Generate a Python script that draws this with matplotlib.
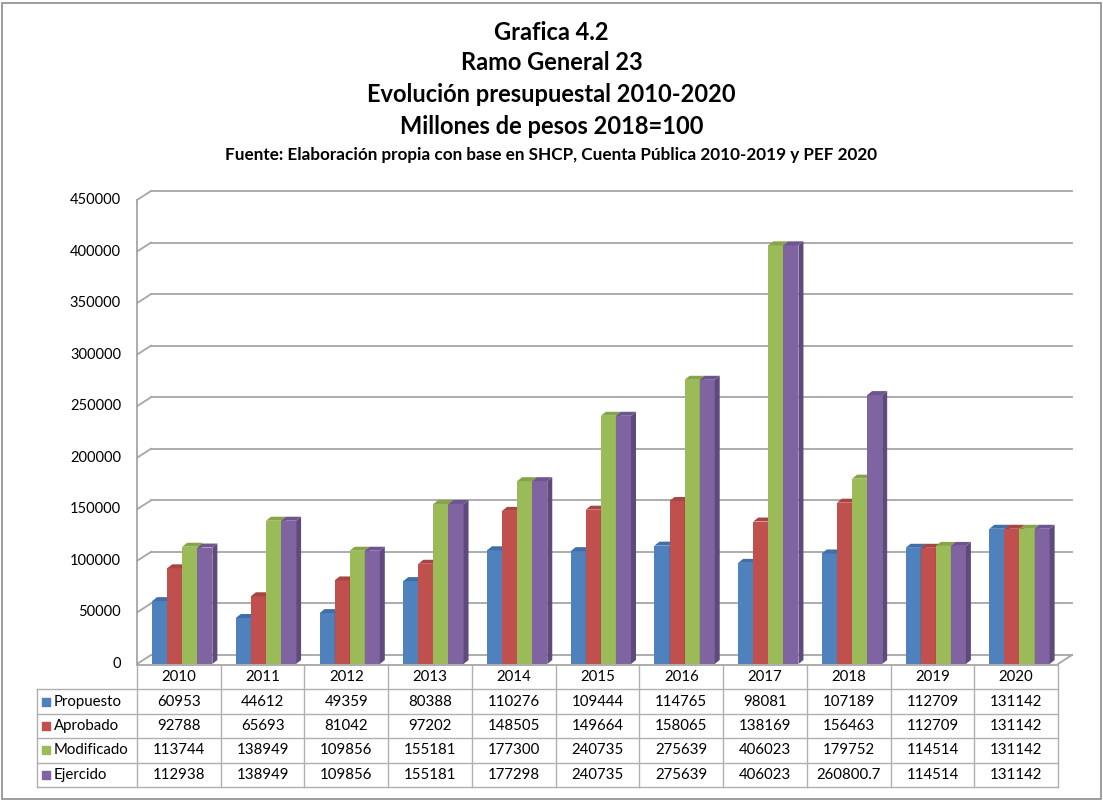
import numpy as np
import matplotlib
matplotlib.use("Agg")
import matplotlib.pyplot as plt
from matplotlib.patches import Polygon, Rectangle

plt.rcParams["font.family"] = ["Lato", "DejaVu Sans"]

years = ["2010", "2011", "2012", "2013", "2014", "2015",
         "2016", "2017", "2018", "2019", "2020"]
series = ["Propuesto", "Aprobado", "Modificado", "Ejercido"]
propuesto = [60953, 44612, 49359, 80388, 110276, 109444, 114765, 98081, 107189, 112709, 131142]
aprobado = [92788, 65693, 81042, 97202, 148505, 149664, 158065, 138169, 156463, 112709, 131142]
modificado = [113744, 138949, 109856, 155181, 177300, 240735, 275639, 406023, 179752, 114514, 131142]
ejercido = [112938, 138949, 109856, 155181, 177298, 240735, 275639, 406023, 260800.7, 114514, 131142]
yticks = np.arange(0, 450001, 50000)

titles = ["Grafica 4.2", "Ramo General 23", "Evolución presupuestal 2010-2020",
          "Millones de pesos 2018=100"]
fuente = "Fuente: Elaboración propia con base en SHCP, Cuenta Pública 2010-2019 y PEF 2020"

# front / side / top colours (Excel 2007 palette)
faces = ["#4f81bd", "#c0504d", "#9bbb59", "#8064a2"]
sides = ["#3a6195", "#943c3a", "#76913f", "#5f4a7c"]
tops = ["#3f6fa8", "#a84542", "#86a549", "#6d5590"]
grid_c = "#a6a6a6"

W, H = 1103, 801
fig = plt.figure(figsize=(W / 100, H / 100), dpi=100)


def px_axes(l, t, r, b):
    return fig.add_axes([l / W, 1 - b / H, (r - l) / W, (b - t) / H])


def fmt(v):
    return str(int(v)) if float(v).is_integer() else str(v)


# outer chart border
fig.patches.append(Rectangle((2 / W, 2 / H), 1 - 4 / W, 1 - 5 / H, transform=fig.transFigure,
                             fill=False, edgecolor="#8c8c8c", lw=1.2))

tops_y = [32, 63, 95, 126]
for t, y in zip(titles, tops_y):
    fig.text(0.5, 1 - y / H, t, ha="center", va="center", fontsize=17, fontweight="bold")
fig.text(0.5, 1 - 155 / H, fuente, ha="center", va="center", fontsize=12.3, fontweight="bold")

# plot area (front plane)
left, right, top, bottom = 137, 1058, 200, 664
ax = px_axes(left, top, right, bottom)
n = len(years)
ax.set_xlim(0, n)
ax.set_ylim(0, yticks[-1])
ax.axis("off")
sx = n / (right - left)
sy = yticks[-1] / (bottom - top)
DX, DY = 14 * sx, 9 * sy

for v in yticks:
    ax.plot([DX, n + DX], [v + DY, v + DY], color=grid_c, lw=1.3, clip_on=False, zorder=1)
    ax.plot([0, DX], [v, v + DY], color=grid_c, lw=1.3, clip_on=False, zorder=1)
    ax.text(-16 * sx, v, str(v), ha="right", va="center", fontsize=10.5)
ax.plot([0, 0], [0, yticks[-1]], color=grid_c, lw=1.3, clip_on=False, zorder=1)
ax.plot([n, n + DX], [0, DY], color=grid_c, lw=1.3, clip_on=False, zorder=1)

bw = 0.18
off = 0.18
ddx, ddy = 5 * sx, 4 * sy
data = [propuesto, aprobado, modificado, ejercido]
x = np.arange(n)
for j, vals in enumerate(data):
    xs = x + off + j * bw
    z = 3 + j
    ax.bar(xs, vals, width=bw, align="edge", color=faces[j], zorder=z, clip_on=False)
    for x0, v in zip(xs, vals):
        x1 = x0 + bw
        ax.add_patch(Polygon([(x1, 0), (x1, v), (x1 + ddx, v + ddy), (x1 + ddx, ddy)],
                             closed=True, facecolor=sides[j], edgecolor="none", zorder=z,
                             clip_on=False))
        ax.add_patch(Polygon([(x0, v), (x1, v), (x1 + ddx, v + ddy), (x0 + ddx, v + ddy)],
                             closed=True, facecolor=tops[j], edgecolor="none", zorder=z,
                             clip_on=False))

# data table
tleft, ttop, tbottom = 37, 665, 787
tab = px_axes(tleft, ttop, right, tbottom)
labw = (left - tleft) * sx
tab.set_xlim(-labw, n)
tab.set_ylim(5, 0)
tab.axis("off")
tc = "#b0b0b0"
tab.plot([0, n], [0, 0], color=grid_c, lw=1.3, clip_on=False)
for r in range(1, 6):
    tab.plot([-labw, n], [r, r], color=tc, lw=1, clip_on=False)
for c in range(n + 1):
    tab.plot([c, c], [0, 5], color=tc, lw=1, clip_on=False)
tab.plot([-labw, -labw], [1, 5], color=tc, lw=1, clip_on=False)

for c, yr in enumerate(years):
    tab.text(c + 0.5, 0.5, yr, ha="center", va="center", fontsize=10.8)
for r, (name, vals) in enumerate(zip(series, data), start=1):
    tab.scatter([-labw + 9 * sx], [r + 0.5], marker="s", s=28, color=faces[r - 1],
                clip_on=False)
    tab.text(-labw + 17 * sx, r + 0.5, name, ha="left", va="center", fontsize=10.8)
    for c, v in enumerate(vals):
        tab.text(c + 0.5, r + 0.5, fmt(v), ha="center", va="center", fontsize=10.8)

fig.savefig("out.png", dpi=100)
